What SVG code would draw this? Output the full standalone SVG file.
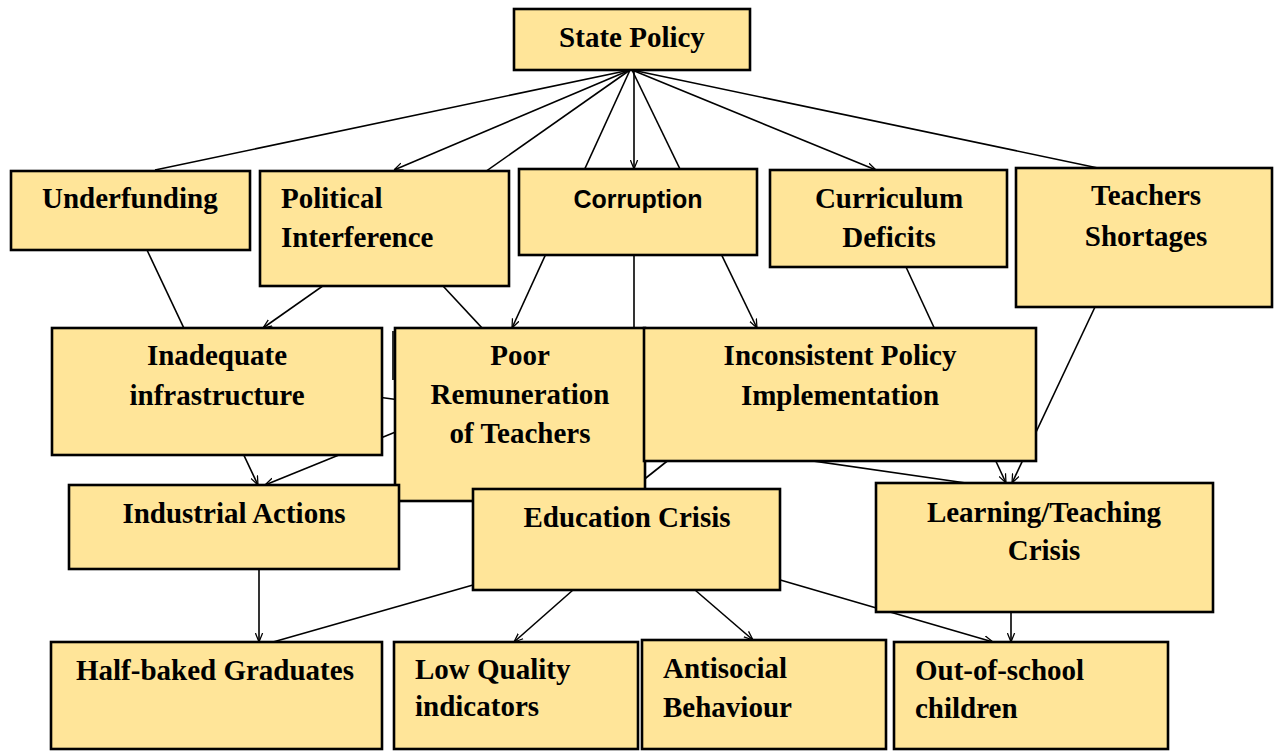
<svg xmlns="http://www.w3.org/2000/svg" width="1274" height="751" viewBox="0 0 1274 751">
<style>
.box{fill:#FFE599;stroke:#000;stroke-width:2.6}
.t{font-family:"Liberation Serif","Times New Roman",serif;font-weight:bold;font-size:29px;fill:#000}
.c{text-anchor:middle}
.s{font-family:"Liberation Sans",Arial,sans-serif;font-weight:bold;font-size:25px;fill:#000;text-anchor:middle}
.ln{stroke:#000;stroke-width:1.6;fill:none}
</style>
<defs>
<marker id="a" viewBox="0 0 10 10" refX="10" refY="5" markerWidth="9" markerHeight="9" markerUnits="userSpaceOnUse" orient="auto">
<path d="M0,1 L10,5 L0,9" fill="none" stroke="#000" stroke-width="1.4"/>
</marker>
</defs>
<g id="connectors">
<line class="ln" x1="630" y1="70" x2="155" y2="170"/>
<line class="ln" x1="630" y1="70" x2="394" y2="170" marker-end="url(#a)"/>
<line class="ln" x1="630" y1="70" x2="263" y2="328" marker-end="url(#a)"/>
<line class="ln" x1="630" y1="70" x2="512" y2="328" marker-end="url(#a)"/>
<line class="ln" x1="634" y1="70" x2="634" y2="169" marker-end="url(#a)"/>
<line class="ln" x1="632" y1="70" x2="757" y2="328" marker-end="url(#a)"/>
<line class="ln" x1="632" y1="70" x2="876" y2="170" marker-end="url(#a)"/>
<line class="ln" x1="632" y1="70" x2="1098" y2="168"/>
<line class="ln" x1="147" y1="250" x2="258" y2="485" marker-end="url(#a)"/>
<line class="ln" x1="443" y1="286" x2="632" y2="489"/>
<line class="ln" x1="634" y1="256" x2="634" y2="489"/>
<line class="ln" x1="393" y1="331" x2="393" y2="380"/>
<line class="ln" x1="370" y1="396" x2="400" y2="400"/>
<line class="ln" x1="430" y1="418" x2="265" y2="485" marker-end="url(#a)"/>
<line class="ln" x1="906" y1="267" x2="1006" y2="483" marker-end="url(#a)"/>
<line class="ln" x1="1095" y1="307" x2="1012" y2="483" marker-end="url(#a)"/>
<line class="ln" x1="690" y1="443" x2="632" y2="489"/>
<line class="ln" x1="646" y1="437" x2="966" y2="483"/>
<line class="ln" x1="259" y1="569" x2="259" y2="642" marker-end="url(#a)"/>
<line class="ln" x1="473" y1="585" x2="273" y2="642"/>
<line class="ln" x1="573" y1="590" x2="514" y2="642" marker-end="url(#a)"/>
<line class="ln" x1="695" y1="590" x2="753" y2="640" marker-end="url(#a)"/>
<line class="ln" x1="770" y1="577" x2="993" y2="642" marker-end="url(#a)"/>
<line class="ln" x1="1011" y1="612" x2="1011" y2="642" marker-end="url(#a)"/>
</g>
<g id="state-policy"><rect class="box" x="514" y="9" width="236" height="61"/><text class="t c" x="632" y="47">State Policy</text></g>
<g id="underfunding"><rect class="box" x="11" y="171" width="239" height="79"/><text class="t" x="42" y="208">Underfunding</text></g>
<g id="political-interference"><rect class="box" x="260" y="171" width="249" height="115"/><text class="t" x="281" y="208">Political</text><text class="t" x="281" y="247">Interference</text></g>
<g id="corruption"><rect class="box" x="519" y="169" width="238" height="86"/><text class="s" x="638" y="208">Corruption</text></g>
<g id="curriculum-deficits"><rect class="box" x="770" y="170" width="237" height="97"/><text class="t c" x="889" y="208">Curriculum</text><text class="t c" x="889" y="247">Deficits</text></g>
<g id="teachers-shortages"><rect class="box" x="1016" y="168" width="256" height="139"/><text class="t c" x="1146" y="205">Teachers</text><text class="t c" x="1146" y="246">Shortages</text></g>
<g id="inadequate-infrastructure"><rect class="box" x="52" y="328" width="330" height="127"/><text class="t c" x="217" y="365">Inadequate</text><text class="t c" x="217" y="405">infrastructure</text></g>
<g id="poor-remuneration"><rect class="box" x="395" y="328" width="250" height="173"/><text class="t c" x="520" y="365">Poor</text><text class="t c" x="520" y="404">Remuneration</text><text class="t c" x="520" y="443">of Teachers</text></g>
<g id="inconsistent-policy"><rect class="box" x="644" y="328" width="392" height="133"/><text class="t c" x="840" y="365">Inconsistent Policy</text><text class="t c" x="840" y="405">Implementation</text></g>
<g id="industrial-actions"><rect class="box" x="69" y="485" width="330" height="84"/><text class="t c" x="234" y="523">Industrial Actions</text></g>
<g id="education-crisis"><rect class="box" x="473" y="489" width="307" height="101"/><text class="t c" x="627" y="527">Education Crisis</text></g>
<g id="learning-teaching-crisis"><rect class="box" x="876" y="483" width="337" height="129"/><text class="t c" x="1044" y="522">Learning/Teaching</text><text class="t c" x="1044" y="560">Crisis</text></g>
<g id="half-baked-graduates"><rect class="box" x="51" y="642" width="331" height="107"/><text class="t" x="76" y="680">Half-baked Graduates</text></g>
<g id="low-quality-indicators"><rect class="box" x="394" y="642" width="244" height="107"/><text class="t" x="415" y="679">Low Quality</text><text class="t" x="415" y="716">indicators</text></g>
<g id="antisocial-behaviour"><rect class="box" x="642" y="640" width="244" height="109"/><text class="t" x="663" y="678">Antisocial</text><text class="t" x="663" y="717">Behaviour</text></g>
<g id="out-of-school-children"><rect class="box" x="894" y="642" width="274" height="107"/><text class="t" x="915" y="680">Out-of-school</text><text class="t" x="915" y="718">children</text></g>
</svg>
